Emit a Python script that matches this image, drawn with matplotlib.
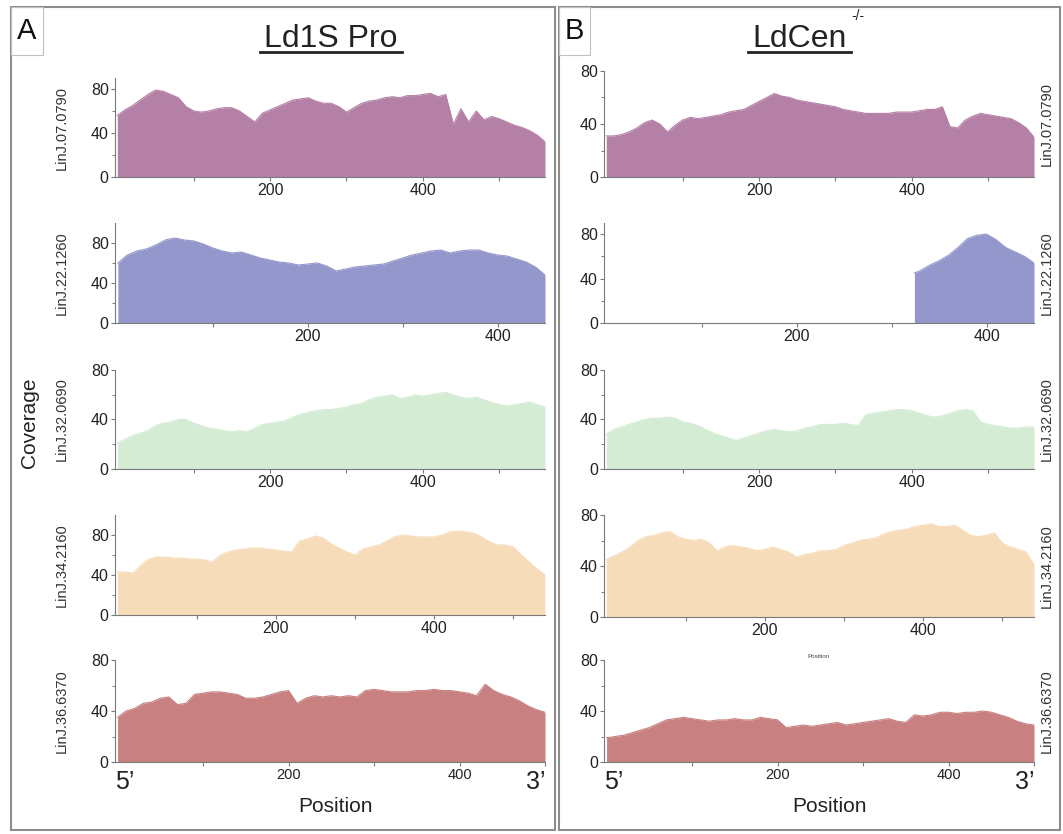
import matplotlib
matplotlib.use('Agg')
import matplotlib.pyplot as plt
import numpy as np
from matplotlib.patches import Rectangle
from matplotlib.lines import Line2D

plt.rcParams['font.family'] = ['Liberation Sans', 'DejaVu Sans']

# coverage every 10 positions (start at 0)
genes = ['LinJ.07.0790', 'LinJ.22.1260', 'LinJ.32.0690', 'LinJ.34.2160', 'LinJ.36.6370']
colors = ['#b580a6', '#9497cb', '#d4ecd4', '#f7dcba', '#c98080']

# Ld1S Pro
pro_0790 = [56, 61, 65, 70, 75, 79, 78, 75, 72, 64, 60, 59, 60, 62, 63, 63, 60, 55, 50, 58,
            61, 64, 67, 70, 71, 72, 69, 67, 67, 64, 59, 63, 67, 69, 70, 72, 73, 72, 74, 74,
            75, 76, 73, 75, 48, 62, 50, 60, 52, 55, 53, 50, 47, 45, 42, 38, 32]
pro_1260 = [60, 68, 72, 74, 78, 83, 85, 83, 82, 79, 75, 72, 70, 71, 68, 65, 63, 61, 60, 58,
            59, 60, 57, 52, 54, 56, 57, 58, 59, 62, 65, 68, 70, 72, 73, 70, 72, 73, 73, 70,
            68, 67, 64, 61, 56, 48]
pro_0690 = [21, 24, 27, 29, 31, 35, 37, 38, 40, 40, 37, 35, 33, 32, 31, 30, 31, 30, 33, 36,
            37, 38, 39, 42, 44, 46, 47, 48, 48, 49, 50, 52, 53, 56, 58, 59, 60, 57, 58, 60,
            59, 60, 61, 62, 60, 58, 57, 58, 56, 54, 52, 51, 52, 53, 54, 52, 50]
pro_2160 = [43, 43, 42, 50, 56, 58, 58, 57, 57, 56, 56, 55, 53, 60, 63, 65, 66, 67, 67, 66,
            65, 64, 63, 74, 76, 79, 77, 71, 67, 63, 60, 66, 68, 70, 74, 78, 80, 79, 78, 78,
            78, 80, 83, 84, 83, 82, 78, 73, 70, 70, 68, 60, 53, 46, 40]
pro_6370 = [35, 40, 42, 46, 47, 50, 51, 45, 46, 53, 54, 55, 55, 54, 53, 50, 50, 51, 53, 55,
            56, 46, 50, 52, 51, 52, 51, 52, 51, 56, 57, 56, 55, 55, 55, 56, 56, 57, 56, 56,
            55, 54, 52, 61, 56, 53, 51, 48, 44, 41, 39]

# LdCen-/-
cen_0790 = [31, 31, 32, 34, 37, 41, 43, 40, 34, 39, 43, 45, 44, 45, 46, 47, 49, 50, 51, 54,
            57, 60, 63, 61, 60, 58, 57, 56, 55, 54, 53, 51, 50, 49, 48, 48, 48, 48, 49, 49,
            49, 50, 51, 51, 53, 38, 37, 43, 46, 48, 47, 46, 45, 44, 41, 37, 30]
cen_1260_pos = [324, 330, 340, 350, 360, 370, 380, 390, 400, 410, 420, 430, 440, 450]
cen_1260 = [45, 47, 52, 56, 61, 68, 76, 79, 80, 75, 68, 64, 60, 54]
cen_0690 = [28, 32, 34, 36, 38, 40, 41, 41, 42, 41, 38, 37, 35, 32, 29, 27, 25, 23, 25, 27,
            29, 31, 32, 31, 30, 31, 33, 34, 36, 36, 36, 37, 36, 35, 44, 45, 46, 47, 48, 48,
            47, 45, 43, 42, 43, 45, 47, 48, 47, 38, 36, 35, 34, 33, 33, 34, 34]
cen_2160 = [45, 48, 51, 55, 60, 63, 64, 66, 67, 63, 61, 60, 61, 58, 52, 55, 56, 55, 54, 52,
            53, 55, 53, 51, 47, 49, 50, 52, 52, 53, 56, 58, 60, 61, 62, 65, 67, 68, 69, 71,
            72, 73, 71, 71, 72, 68, 64, 63, 64, 66, 58, 55, 53, 51, 41]
cen_6370 = [19, 20, 21, 23, 25, 27, 30, 33, 34, 35, 34, 33, 32, 33, 33, 34, 33, 33, 35, 34,
            33, 27, 28, 29, 28, 29, 30, 31, 29, 30, 31, 32, 33, 34, 32, 31, 37, 36, 37, 39,
            39, 38, 39, 39, 40, 39, 37, 35, 32, 30, 29]

pro_series = [pro_0790, pro_1260, pro_0690, pro_2160, pro_6370]
cen_series = [cen_0790, None, cen_0690, cen_2160, cen_6370]

W, H = 1063, 834
fig = plt.figure(figsize=(W / 100, H / 100), dpi=100)


def fx(x):
    return x / W


def fy(y):
    return 1 - y / H


def add_ax(left, top, right, bottom):
    return fig.add_axes([fx(left), fy(bottom), (right - left) / W, (bottom - top) / H])


rows_a = [(78, 177), (223, 323), (370, 469), (515, 615), (660, 762)]
rows_b = [(71, 177), (223, 323), (370, 469), (515, 617), (660, 762)]
ytop_a = [90, 100, 80, 100, 80]
ytop_b = [80, 90, 80, 80, 80]
grey = '#7a7a7a'


def style(ax, length, ytop, last):
    for s in ['top', 'right']:
        ax.spines[s].set_visible(False)
    for s in ['left', 'bottom']:
        ax.spines[s].set_color(grey)
        ax.spines[s].set_linewidth(0.8)
    ax.set_xlim(-3, length)
    ax.set_ylim(0, ytop)
    ticks = [t for t in range(100, length + 1, 100)]
    ax.set_xticks(ticks)
    ax.set_xticklabels(['200' if t == 200 else '400' if t == 400 else '' for t in ticks])
    ax.set_yticks([0, 40, 80])
    ax.set_yticks([20, 60], minor=True)
    ax.tick_params(direction='out', length=3, width=0.8, color=grey, labelsize=11.5,
                   labelcolor='#222222', pad=1.5)
    ax.tick_params(axis='y', which='minor', length=2, width=0.7, color=grey)
    ax.tick_params(axis='x', labelsize=10.5 if last else 11.5)


for i in range(5):
    # panel A
    vals = np.array(pro_series[i])
    pos = np.arange(len(vals)) * 10
    ax = add_ax(115, rows_a[i][0], 545, rows_a[i][1])
    ax.fill_between(pos, vals, color=colors[i], lw=0)
    ax.plot(pos, vals, color=colors[i], lw=0.8)
    style(ax, int(pos[-1]), ytop_a[i], i == 4)
    top, bot = rows_a[i]
    fig.text(fx(62), fy((top + bot) / 2), genes[i], rotation=90, ha='center', va='center',
             fontsize=10.5, color='#333333')

    # panel B
    ax = add_ax(604, rows_b[i][0], 1034, rows_b[i][1])
    if cen_series[i] is None:
        vals = np.array(cen_1260)
        pos = np.array(cen_1260_pos)
        length = 450
    else:
        vals = np.array(cen_series[i])
        pos = np.arange(len(vals)) * 10
        length = int(pos[-1])
    ax.fill_between(pos, vals, color=colors[i], lw=0)
    ax.plot(pos, vals, color=colors[i], lw=0.8)
    style(ax, length, ytop_b[i], i == 4)
    top, bot = rows_b[i]
    fig.text(fx(1047), fy((top + bot) / 2), genes[i], rotation=90, ha='center', va='center',
             fontsize=10.5, color='#333333')

# 5' / 3' ends and axis titles
for x5, x3, xc in [(125, 536, 336), (614, 1025, 829)]:
    fig.text(fx(x5), fy(782), '5\u2019', ha='center', va='center', fontsize=18, color='#222222')
    fig.text(fx(x3), fy(782), '3\u2019', ha='center', va='center', fontsize=18, color='#222222')
    fig.text(fx(xc), fy(807), 'Position', ha='center', va='center', fontsize=15, color='#222222')

fig.text(fx(30), fy(423), 'Coverage', rotation=90, ha='center', va='center', fontsize=15,
         color='#222222')
fig.text(fx(819), fy(657), 'Position', ha='center', va='center', fontsize=4.5, color='#444444')

# titles
fig.text(fx(331), fy(47), 'Ld1S Pro', ha='center', va='baseline', fontsize=23, color='#222222')
fig.add_artist(Line2D([fx(260), fx(402)], [fy(52), fy(52)], color='#222222', lw=2))
fig.text(fx(800), fy(47), 'LdCen', ha='center', va='baseline', fontsize=23, color='#222222')
fig.text(fx(851), fy(20), '-/-', ha='left', va='baseline', fontsize=10, color='#222222')
fig.add_artist(Line2D([fx(748), fx(851)], [fy(52), fy(52)], color='#222222', lw=2))

# panel frames and letter boxes
for l, r in [(11, 555), (559, 1060)]:
    fig.add_artist(Rectangle((fx(l), fy(830)), (r - l) / W, (830 - 7) / H,
                             transform=fig.transFigure, fill=False, ec='#8c8c8c', lw=1.5))
for l, r, letter in [(11, 43, 'A'), (559, 590, 'B')]:
    fig.add_artist(Rectangle((fx(l), fy(55)), (r - l) / W, (55 - 7) / H,
                             transform=fig.transFigure, fill=False, ec='#c0c0c0', lw=0.8))
    fig.text(fx((l + r) / 2), fy(31), letter, ha='center', va='center', fontsize=21,
             color='#111111')

fig.savefig('out.png', dpi=100)
